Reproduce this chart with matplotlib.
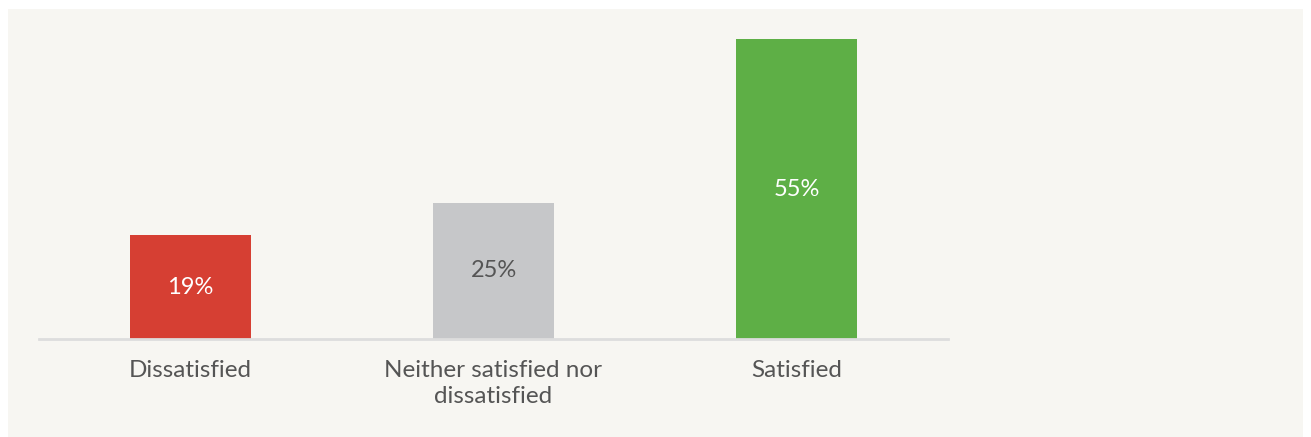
import matplotlib
matplotlib.use("Agg")
import matplotlib.pyplot as plt
from matplotlib.patches import Rectangle

categories = ["Dissatisfied", "Neither satisfied nor\ndissatisfied", "Satisfied"]
values = [19, 25, 55]
labels = ["19%", "25%", "55%"]
colors = ["#D63F33", "#C6C7C9", "#5EAF46"]
label_colors = ["white", "#555555", "white"]

plt.rcParams['font.family'] = ['Lato', 'DejaVu Sans']

W, H = 1311, 437
fig = plt.figure(figsize=(W/100, H/100), dpi=100)
fig.patch.set_facecolor("white")
bg = Rectangle((8/W, 0), (1303-8)/W, (437-9)/H, transform=fig.transFigure,
               facecolor="#F7F6F2", edgecolor="none", zorder=-10)
fig.add_artist(bg)

ax = fig.add_axes([39/W, (H-339)/H, (948-39)/W, (339-39)/H])
ax.set_zorder(5)
ax.set_facecolor("none")
x = list(range(len(categories)))
bars = ax.bar(x, values, width=122/304, color=colors, zorder=2)
for xi, v, lab, lc in zip(x, values, labels, label_colors):
    ax.text(xi, v/2, lab, ha="center", va="center", color=lc, fontsize=17)

ax.set_xlim(-0.5, 2.5)
ax.set_ylim(0, 55)
ax.set_yticks([])
ax.set_xticks(x)
ax.set_xticklabels(categories, fontsize=17.5, color="#555555", linespacing=1.3)
ax.tick_params(axis="x", length=0, pad=15)
for s in ["top", "right", "left"]:
    ax.spines[s].set_visible(False)
ax.spines["bottom"].set_color("#DDDDDD")
ax.spines["bottom"].set_linewidth(2)

fig.savefig("out.png", dpi=100)
